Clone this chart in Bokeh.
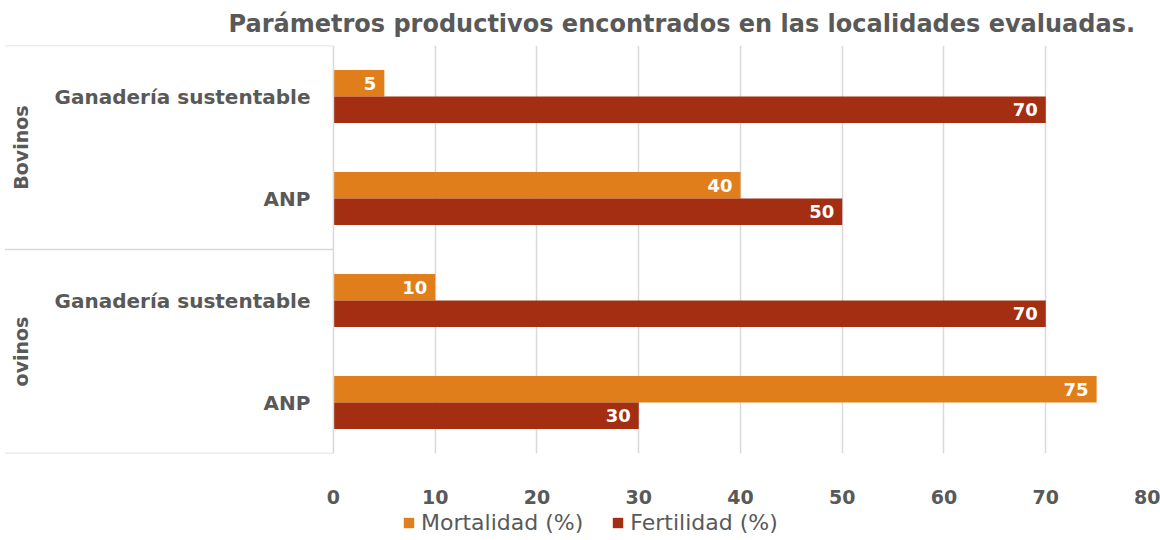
import math
from bokeh.plotting import figure
from bokeh.layouts import column
from bokeh.models import (FactorRange, ColumnDataSource, Legend, LegendItem, Range1d,
                          FixedTicker, Span)
from bokeh.transform import dodge
from bokeh.core.properties import value
from bokeh.embed import file_html
from bokeh.resources import INLINE

species = ["ovinos", "ovinos", "Bovinos", "Bovinos"]
systems = ["ANP", "Ganadería sustentable", "ANP", "Ganadería sustentable"]
groups = ["ovinos", "Bovinos"]
mortalidad = [75, 10, 40, 5]
fertilidad = [30, 70, 50, 70]
x_ticks = [0, 10, 20, 30, 40, 50, 60, 70, 80]
title_text = "Parámetros productivos encontrados en las localidades evaluadas."
series_names = ["Mortalidad (%)", "Fertilidad (%)"]

ORANGE = "#DF7E1B"
RED = "#A32E12"
GREY = "#595959"
LINE = "#D9D9D9"
FONT = "DejaVu Sans"

factors = list(zip(species, systems))
src = ColumnDataSource(dict(
    y=factors,
    sub=systems,
    mort=mortalidad,
    fert=fertilidad,
    mort_lbl=[str(v) for v in mortalidad],
    fert_lbl=[str(v) for v in fertilidad],
))

X_MIN = -32.33  # room on the left for the category panel
yr = FactorRange(*factors, group_padding=0, factor_padding=0, range_padding=0)
p = figure(width=1160, height=510, y_range=yr, x_range=Range1d(X_MIN, 80),
           output_backend="svg", toolbar_location=None,
           min_border_left=4, min_border_right=13, min_border_top=44, min_border_bottom=57)
p.outline_line_color = None
p.yaxis.visible = False

# category panel: labels and box lines
p.text(x=0, y="y", text="sub", source=src, x_offset=-23, text_align="right",
       text_baseline="middle", text_color=GREY, text_font=value(FONT),
       text_font_style="bold", text_font_size="20px")
gsrc = ColumnDataSource(dict(g=groups))
p.text(x=0, y="g", text="g", source=gsrc, x_offset=-312, angle=math.pi / 2,
       text_align="center", text_baseline="middle", text_color=GREY,
       text_font=value(FONT), text_font_style="bold", text_font_size="19px")

top_src = ColumnDataSource(dict(y=[("Bovinos", "Ganadería sustentable"),
                                   ("ovinos", "Ganadería sustentable")]))
p.segment(x0=X_MIN, x1=0, y0=dodge("y", 0.5, range=yr), y1=dodge("y", 0.5, range=yr),
          source=top_src, line_color=LINE, line_width=1.5)
bot_src = ColumnDataSource(dict(y=[("ovinos", "ANP")]))
p.segment(x0=X_MIN, x1=0, y0=dodge("y", -0.5, range=yr), y1=dodge("y", -0.5, range=yr),
          source=bot_src, line_color=LINE, line_width=1.5)
p.add_layout(Span(location=0, dimension="height", line_color=LINE, line_width=1.5))

r1 = p.hbar(y=dodge("y", 0.13, range=yr), right="mort", height=0.26, source=src,
            fill_color=ORANGE, line_color=None)
r2 = p.hbar(y=dodge("y", -0.13, range=yr), right="fert", height=0.26, source=src,
            fill_color=RED, line_color=None)

p.text(x="mort", y=dodge("y", 0.13, range=yr), text="mort_lbl", source=src,
       x_offset=-8, text_align="right", text_baseline="middle", text_color="white",
       text_font=value(FONT), text_font_style="bold", text_font_size="18px")
p.text(x="fert", y=dodge("y", -0.13, range=yr), text="fert_lbl", source=src,
       x_offset=-8, text_align="right", text_baseline="middle", text_color="white",
       text_font=value(FONT), text_font_style="bold", text_font_size="18px")

p.xaxis.ticker = FixedTicker(ticks=x_ticks)
p.xaxis.axis_line_color = None
p.xaxis.major_tick_line_color = None
p.xaxis.minor_tick_line_color = None
p.xaxis.major_label_standoff = 30
p.xaxis.major_label_text_font = FONT
p.xaxis.major_label_text_font_style = "bold"
p.xaxis.major_label_text_font_size = "19px"
p.xaxis.major_label_text_color = GREY

p.xgrid.ticker = FixedTicker(ticks=x_ticks[1:])
p.xgrid.grid_line_color = LINE
p.xgrid.grid_line_width = 1.5
p.ygrid.grid_line_color = None

p.title.text = title_text
p.title.text_font = FONT
p.title.text_font_style = "bold"
p.title.text_font_size = "24px"
p.title.text_color = GREY
p.title.align = "left"
p.title.offset = 224
p.title.standoff = 15

# legend strip under the chart (legend swatches only; no data drawn)
lg = figure(width=1160, height=30, x_range=Range1d(0, 1), y_range=Range1d(0, 1),
            output_backend="svg", toolbar_location=None,
            min_border_left=0, min_border_right=0, min_border_top=0, min_border_bottom=0)
lg.axis.visible = False
lg.grid.visible = False
lg.outline_line_color = None
swatch = ColumnDataSource(dict(y=[-5], left=[0], right=[0]))
l1 = lg.hbar(y="y", left="left", right="right", height=0.1, source=swatch,
             fill_color=ORANGE, line_color=None)
l2 = lg.hbar(y="y", left="left", right="right", height=0.1, source=swatch,
             fill_color=RED, line_color=None)
legend = Legend(items=[LegendItem(label=series_names[0], renderers=[l1]),
                       LegendItem(label=series_names[1], renderers=[l2])],
                orientation="horizontal", location=(398, 5),
                label_text_font=FONT, label_text_font_size="22px", label_text_color=GREY,
                glyph_width=13, glyph_height=13, spacing=28, label_standoff=6,
                border_line_color=None, background_fill_alpha=0, padding=0, margin=0)
lg.add_layout(legend, "center")

layout = column(p, lg, spacing=0)
open("out.html", "w").write(file_html(layout, INLINE))
